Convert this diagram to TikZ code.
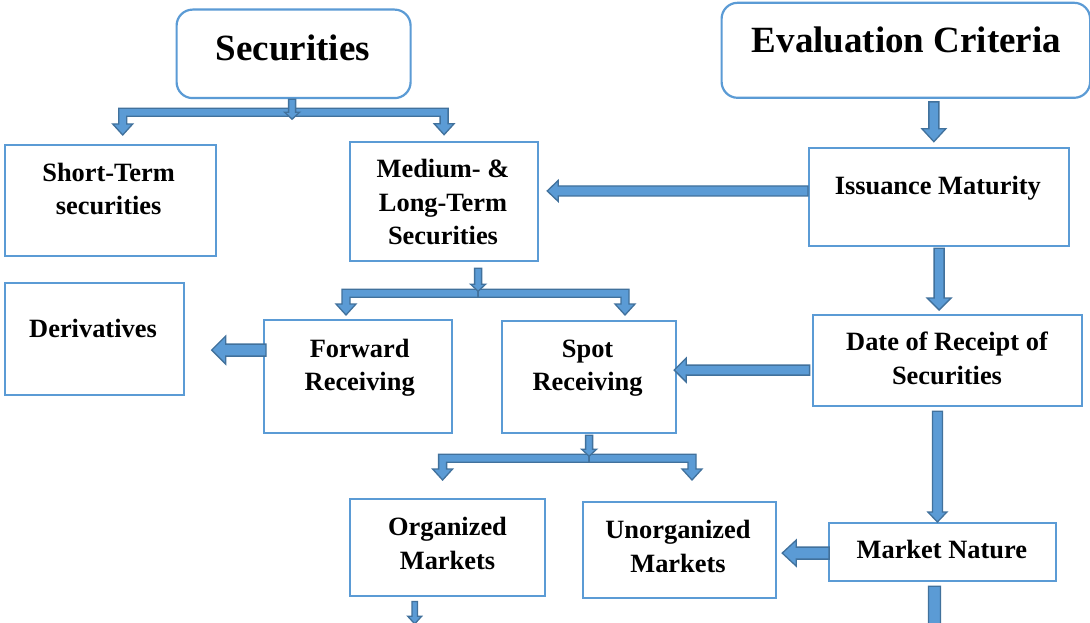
\documentclass[tikz,border=0pt]{standalone}
\usepackage{fontspec}
\setmainfont{Liberation Serif}
\usetikzlibrary{calc}

\definecolor{boxblue}{HTML}{5B9BD5}
\definecolor{arrfill}{HTML}{5B9BD5}
\definecolor{arrline}{HTML}{41719C}

\tikzset{
  box/.style={draw=boxblue, line width=2.2pt, fill=white, inner sep=0pt, anchor=north west},
  rbox/.style={box, rounded corners=16pt},
  txt/.style={font=\fontsize{26.4}{33.5}\selectfont\bfseries, align=center, inner sep=0pt},
  bigtxt/.style={font=\fontsize{37}{44}\selectfont\bfseries, inner sep=0pt},
  blk/.style={fill=arrfill, draw=arrline, line width=1.3pt, line join=miter},
}

% box given by its corners: [style] x1 y1 x2 y2 name
\newcommand\flowbox[6][box]{%
  \node[#1, minimum width={#4-#2}, minimum height={#5-#3}] (#6) at (#2,#3) {};}

% straight block arrow: from, to, half shaft, half head, head length
\newcommand\sarrow[5]{%
  \coordinate (ahb) at ($(#2)!#5!(#1)$);
  \draw[blk] ($(#1)!#3!90:(#2)$) -- ($(ahb)!#3!-90:(#1)$) -- ($(ahb)!#4!-90:(#1)$)
    -- (#2) -- ($(ahb)!#4!90:(#1)$) -- ($(ahb)!#3!90:(#1)$) -- ($(#1)!#3!-90:(#2)$) -- cycle;}

% one arm of a fork: bar point, tip, half shaft, half head, head length
\newcommand\farm[5]{%
  \draw[blk] let \p1=(#1), \p2=(#2), \n1={sign(\x2-\x1)} in
    (\x1,{\y1+#3}) -- ({\x2+\n1*#3},{\y1+#3}) -- ({\x2+\n1*#3},{\y2+#5})
    -- ({\x2+\n1*#4},{\y2+#5}) -- (\x2,\y2) -- ({\x2-\n1*#4},{\y2+#5})
    -- ({\x2-\n1*#3},{\y2+#5}) -- ({\x2-\n1*#3},{\y1-#3}) -- (\x1,{\y1-#3}) -- cycle;}

\begin{document}
\begin{tikzpicture}[x=1pt, y=-1pt]
  \clip (0,0) rectangle (1090,623);
  \fill[white] (0,0) rectangle (1090,623);

  % boxes
  \flowbox[rbox]{175.5}{8.5}{409.5}{97}{sec}
  \flowbox[rbox]{720.5}{1.7}{1089}{96.7}{eval}
  \flowbox{4}{144}{214.5}{255}{short}
  \flowbox{349}{140.7}{537}{260}{med}
  \flowbox{808}{146.7}{1068}{245}{issu}
  \flowbox{3.5}{282}{183}{394}{deriv}
  \flowbox{263}{319}{451}{432}{fwd}
  \flowbox{501}{320}{675}{432}{spot}
  \flowbox{811.6}{314}{1081}{405}{date}
  \flowbox{348.6}{498}{544}{595}{org}
  \flowbox{581.5}{501}{775}{597}{unorg}
  \flowbox{827.6}{522}{1055}{580}{mn}

  % fork under Securities
  \coordinate (secbar) at ($(sec.south)+(-1.5,13)$);
  \coordinate (secL) at ($(short.north west)+(118.7,-9)$);
  \coordinate (secR) at ($(med.north)+(0,-6)$);
  \farm{secbar}{secL}{4pt}{10pt}{11pt}
  \farm{secbar}{secR}{4pt}{10pt}{11pt}
  \coordinate (secs1) at ($(sec.south)+(-1.5,0)$);
  \coordinate (secs2) at ($(sec.south)+(-1.5,20)$);
  \sarrow{secs1}{secs2}{3.5pt}{7.5pt}{7pt}

  % fork under Medium- & Long-Term Securities
  \coordinate (medbar) at ($(med.south)+(34,31)$);
  \coordinate (medL) at ($(fwd.north west)+(83,-4)$);
  \coordinate (medR) at ($(spot.north west)+(124,-5)$);
  \farm{medbar}{medL}{4pt}{10pt}{11pt}
  \farm{medbar}{medR}{4pt}{10pt}{11pt}
  \coordinate (meds1) at ($(med.south)+(34,6)$);
  \coordinate (meds2) at ($(med.south)+(34,29)$);
  \sarrow{meds1}{meds2}{3.5pt}{7.5pt}{7pt}

  % fork under Spot Receiving
  \coordinate (spotbar) at ($(spot.south)+(0,24)$);
  \coordinate (spotL) at ($(org.north west)+(94,-18)$);
  \coordinate (spotR) at ($(unorg.north west)+(110.5,-21)$);
  \farm{spotbar}{spotL}{4pt}{10pt}{11pt}
  \farm{spotbar}{spotR}{4pt}{10pt}{11pt}
  \coordinate (spots1) at ($(spot.south)+(0,1)$);
  \coordinate (spots2) at ($(spot.south)+(0,22)$);
  \sarrow{spots1}{spots2}{3.5pt}{7.5pt}{7pt}

  % criteria chain
  \coordinate (e1s) at ($(eval.south)+(28,3)$);
  \coordinate (e1t) at ($(e1s |- issu.north)+(0,-5)$);
  \sarrow{e1s}{e1t}{5pt}{12pt}{13pt}

  \coordinate (i1s) at ($(issu.west)+(0,-6)$);
  \coordinate (i1t) at ($(i1s -| med.east)+(8,0)$);
  \sarrow{i1s}{i1t}{5pt}{10.5pt}{11pt}

  \coordinate (i2s) at ($(issu.south)+(0,1)$);
  \coordinate (i2t) at ($(i2s |- date.north)+(0,-4)$);
  \sarrow{i2s}{i2t}{5pt}{12pt}{12pt}

  \coordinate (f1s) at ($(fwd.west)+(3,-26.5)$);
  \coordinate (f1t) at ($(f1s -| deriv.east)+(26.5,0)$);
  \sarrow{f1s}{f1t}{6pt}{14pt}{14pt}

  \coordinate (d1s) at ($(date.west)+(-2,9.5)$);
  \coordinate (d1t) at ($(d1s -| spot.east)+(-3,0)$);
  \sarrow{d1s}{d1t}{5pt}{12pt}{12pt}

  \coordinate (d2s) at ($(date.south)+(-10,4)$);
  \coordinate (d2t) at (d2s |- mn.north);
  \sarrow{d2s}{d2t}{5pt}{9.5pt}{10pt}

  \coordinate (m1s) at ($(mn.west)+(1.5,1)$);
  \coordinate (m1t) at ($(m1s -| unorg.east)+(5,0)$);
  \sarrow{m1s}{m1t}{6pt}{13pt}{14pt}

  \coordinate (o1s) at ($(org.south)+(-32.7,4.3)$);
  \coordinate (o1t) at ($(o1s)+(0,22.4)$);
  \sarrow{o1s}{o1t}{2.7pt}{7pt}{7.7pt}

  \coordinate (m2s) at ($(mn.south)+(-8,4)$);
  \coordinate (m2t) at ($(m2s)+(0,80)$);
  \sarrow{m2s}{m2t}{6pt}{13pt}{14pt}

  % labels
  \node[bigtxt] (secT) at (292.8,52.1) {\strut Securities};
  \node[bigtxt] (evalT) at (906.5,43.8) {\strut Evaluation Criteria};
  \node[txt] (shortT) at (108.6,191.2) {\strut Short-Term\\\strut securities};
  \node[txt] (medT) at (443,204.6) {\strut Medium- \&\\\strut Long-Term\\\strut Securities};
  \node[txt] (issuT) at (937.8,187.3) {\strut Issuance Maturity};
  \node[txt] (derivT) at (93,330.3) {\strut Derivatives};
  \node[txt] (fwdT) at (359.7,367.3) {\strut Forward\\\strut Receiving};
  \node[txt] (spotT) at (587.6,367.3) {\strut Spot\\\strut Receiving};
  \node[txt] (dateT) at (947,360.6) {\strut Date of Receipt of\\\strut Securities};
  \node[txt] (orgT) at (447.5,545.6) {\strut Organized\\\strut Markets};
  \node[txt] (unorgT) at (678,548.7) {\strut Unorganized\\\strut Markets};
  \node[txt] (mnT) at (941.8,551.3) {\strut Market Nature};
\end{tikzpicture}
\end{document}
